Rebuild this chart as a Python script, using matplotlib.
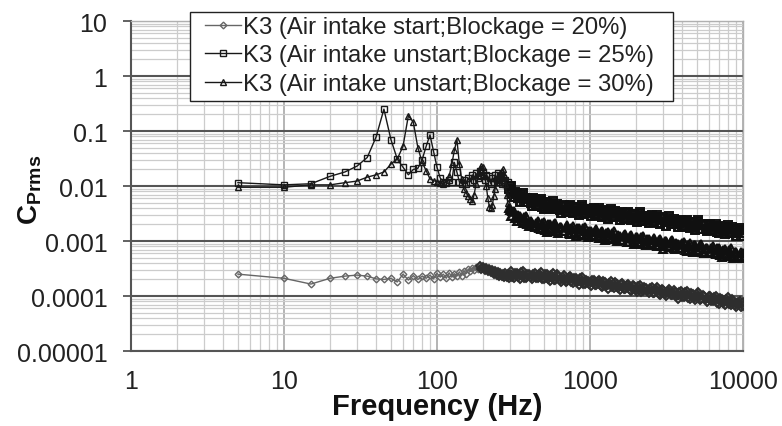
import numpy as np
import matplotlib
matplotlib.use('Agg')
import matplotlib.pyplot as plt
from matplotlib.patches import Rectangle
from matplotlib.ticker import LogLocator, FixedLocator, FixedFormatter, NullFormatter

plt.rcParams['font.family'] = ['Liberation Sans', 'DejaVu Sans']
plt.rcParams['mathtext.fontset'] = 'custom'
plt.rcParams['mathtext.rm'] = 'Liberation Sans'
plt.rcParams['mathtext.bf'] = 'Liberation Sans:bold'

# frequency bins: 5 Hz spacing up to 300 Hz, then a thinned set to 10 kHz
freq_lo = np.arange(5, 301, 5)
freq_hi = [305, 320, 335, 350, 365, 380, 400, 420, 435, 455,
           475, 500, 520, 545, 570, 595, 620, 650, 680, 710,
           740, 775, 810, 845, 885, 925, 965, 1010, 1055, 1100,
           1150, 1200, 1255, 1310, 1370, 1430, 1495, 1560, 1630, 1705,
           1780, 1860, 1945, 2030, 2120, 2215, 2315, 2420, 2530, 2640,
           2760, 2885, 3015, 3150, 3290, 3440, 3595, 3755, 3925, 4100,
           4285, 4480, 4680, 4890, 5110, 5340, 5580, 5830, 6090, 6365,
           6650, 6950, 7265, 7590, 7930, 8290, 8660, 9050, 9500, 10000]
freq_mid = [310, 325, 340, 355, 370, 390, 410, 425, 445, 465,
            485, 510, 530, 555, 580, 605, 635, 665, 695, 725,
            755, 790, 825, 865, 905, 945, 985, 1030, 1075, 1125,
            1175, 1225, 1280, 1340, 1400, 1460, 1525, 1595, 1665, 1740,
            1820, 1900, 1985, 2075, 2165, 2265, 2365, 2475, 2585, 2700,
            2820, 2950, 3080, 3220, 3365, 3515, 3675, 3840, 4010, 4190,
            4380, 4580, 4785, 5000, 5225, 5460, 5705, 5960, 6225, 6505,
            6800, 7105, 7425, 7760, 8110, 8475, 8855, 9275, 9750, 9950]

# Blockage 20% (start), values x1e-4
cp20_lo = [2.5, 2.1, 1.65, 2.1, 2.3, 2.4, 2.3, 2.05, 2.0, 2.1,
           1.8, 2.5, 1.95, 2.35, 2.0, 2.3, 2.1, 2.4, 2.05, 2.6,
           2.2, 2.5, 2.1, 2.65, 2.2, 2.55, 2.3, 2.75, 2.35, 2.9,
           2.55, 3.1, 2.8, 3.3, 3.0, 3.4, 3.1, 3.45, 3.05, 3.35,
           3.0, 3.3, 2.85, 3.1, 2.7, 2.95, 2.55, 2.8, 2.45, 2.7,
           2.35, 2.65, 2.3, 2.55, 2.25, 2.6, 2.2, 2.5, 2.15, 2.45]
cp20_hi = [2.88, 2.16, 2.61, 2.04, 2.81, 2.12, 2.47, 2.01, 2.61, 2.14,
           2.78, 2.07, 2.51, 1.89, 2.58, 1.93, 2.31, 1.80, 2.37, 1.84,
           2.31, 1.72, 2.13, 1.60, 2.22, 1.67, 1.91, 1.55, 1.97, 1.57,
           1.98, 1.46, 1.78, 1.37, 1.89, 1.42, 1.64, 1.30, 1.70, 1.35,
           1.67, 1.24, 1.52, 1.16, 1.59, 1.21, 1.39, 1.12, 1.43, 1.13,
           1.44, 1.05, 1.30, 0.99, 1.37, 1.03, 1.19, 0.88, 1.22, 0.96,
           1.21, 0.90, 1.10, 0.84, 1.17, 0.87, 1.00, 0.79, 1.02, 0.80,
           1.00, 0.73, 0.90, 0.68, 0.94, 0.68, 0.80, 0.62, 0.81, 0.65]
cp20_mid = [2.22, 2.67, 2.22, 2.68, 2.09, 2.54, 2.18, 2.56, 2.10, 2.50,
            2.03, 2.56, 2.06, 2.41, 1.98, 2.47, 1.97, 2.25, 1.83, 2.22,
            1.80, 2.16, 1.78, 2.13, 1.64, 1.98, 1.68, 1.96, 1.58, 1.86,
            1.50, 1.86, 1.49, 1.74, 1.43, 1.78, 1.42, 1.62, 1.33, 1.61,
            1.30, 1.56, 1.28, 1.53, 1.19, 1.44, 1.22, 1.42, 1.14, 1.35,
            1.08, 1.36, 1.08, 1.26, 1.04, 1.29, 1.02, 1.17, 0.957, 1.17,
            0.936, 1.13, 0.93, 1.11, 0.861, 1.03, 0.87, 1.01, 0.806, 0.945,
            0.754, 0.939, 0.746, 0.866, 0.707, 0.874, 0.691, 0.785, 0.637, 0.77]

# Blockage 25% (unstart), values x1e-3
cp25_lo = [11.5, 10.5, 11.0, 15, 18, 23, 33, 78, 250, 70,
           31, 22, 16, 20, 21, 30, 53, 85, 42, 22,
           14, 12, 11.5, 13, 12, 27, 18, 12, 11, 13,
           11, 14, 12, 16, 13, 17, 14, 19, 15, 18,
           13, 16, 12, 15, 11, 14, 12, 16, 13, 17,
           12, 15, 11, 14, 12, 13, 10, 12, 9, 10]
cp25_hi = [10.0, 6.4, 7.5, 5.1, 7.5, 5.2, 5.8, 4.35, 5.9, 4.4,
           5.7, 3.8, 5.0, 3.8, 5.25, 3.8, 4.4, 3.2, 4.5, 3.4,
           4.55, 3.2, 4.1, 2.95, 4.5, 3.25, 3.7, 2.9, 3.95, 3.0,
           3.93, 2.76, 3.56, 2.55, 3.83, 2.73, 3.23, 2.46, 3.43, 2.62,
           3.44, 2.41, 3.11, 2.19, 3.35, 2.31, 2.75, 2.14, 2.97, 2.23,
           2.96, 2.04, 2.63, 1.90, 2.84, 2.03, 2.35, 1.79, 2.46, 1.85,
           2.46, 1.73, 2.23, 1.56, 2.40, 1.64, 1.94, 1.51, 2.08, 1.56,
           2.06, 1.42, 1.83, 1.32, 1.97, 1.41, 1.65, 1.24, 1.72, 1.38]
cp25_mid = [7.2, 7.9, 6.1, 6.9, 5.2, 6.1, 5.0, 6.0, 4.55, 5.4,
            4.1, 5.1, 4.1, 4.8, 3.8, 4.7, 3.7, 4.25, 3.35, 4.3,
            3.4, 4.1, 3.45, 4.2, 3.15, 3.85, 3.2, 3.9, 3.05, 3.7,
            2.88, 3.65, 2.95, 3.48, 2.78, 3.5, 2.75, 3.22, 2.52, 3.24,
            2.57, 3.08, 2.57, 3.13, 2.36, 2.85, 2.39, 2.87, 2.24, 2.73,
            2.13, 2.70, 2.18, 2.56, 2.03, 2.55, 2.00, 2.33, 1.82, 2.33,
            1.85, 2.21, 1.83, 2.22, 1.67, 2.01, 1.68, 2.02, 1.57, 1.90,
            1.48, 1.87, 1.51, 1.77, 1.41, 1.77, 1.38, 1.61, 1.26, 1.62]

# Blockage 30% (unstart), values x1e-3
cp30_lo = [9.5, 9.5, 10.5, 10.5, 11.5, 12.3, 14.5, 16, 18, 25,
           31, 53, 190, 145, 50, 27, 19, 13.5, 12.5, 12,
           11.5, 11, 12, 15, 25, 45, 70, 25, 13.5, 8.8,
           7.5, 6.5, 5.8, 5.3, 7, 11, 16, 20, 23, 22,
           16, 10, 6, 4.2, 4.0, 4.5, 6.5, 9, 12, 13.5,
           15, 17, 18.5, 20, 16, 11, 7, 5, 4, 3.6]
cp30_hi = [2.9, 3.55, 2.3, 2.9, 2.15, 2.85, 1.9, 2.16, 1.77, 2.33,
           1.63, 2.18, 1.46, 2.05, 1.54, 2.14, 1.42, 1.78, 1.49, 1.93,
           1.35, 1.84, 1.26, 1.69, 1.30, 1.78, 1.20, 1.52, 1.24, 1.63,
           1.15, 1.53, 1.03, 1.45, 1.08, 1.50, 1.00, 1.25, 1.04, 1.36,
           0.95, 1.30, 0.886, 1.19, 0.924, 1.26, 0.848, 1.07, 0.878, 1.15,
           0.809, 1.08, 0.726, 1.02, 0.763, 1.06, 0.703, 0.882, 0.735, 0.956,
           0.671, 0.916, 0.625, 0.839, 0.648, 0.882, 0.596, 0.754, 0.617, 0.809,
           0.569, 0.761, 0.511, 0.716, 0.537, 0.745, 0.495, 0.620, 0.517, 0.618]
cp30_mid = [3.5, 2.6, 3.0, 2.3, 2.75, 2.0, 2.3, 1.84, 2.15, 1.73,
            2.1, 1.6, 2.0, 1.64, 2.0, 1.53, 1.83, 1.51, 1.83, 1.38,
            1.73, 1.40, 1.70, 1.37, 1.69, 1.27, 1.53, 1.29, 1.51, 1.22,
            1.48, 1.13, 1.41, 1.15, 1.40, 1.08, 1.29, 1.06, 1.29, 0.97,
            1.22, 0.98, 1.20, 0.966, 1.20, 0.898, 1.08, 0.913, 1.06, 0.855,
            1.04, 0.797, 0.99, 0.814, 0.99, 0.76, 0.907, 0.75, 0.907, 0.685,
            0.86, 0.692, 0.846, 0.683, 0.84, 0.63, 0.76, 0.644, 0.748, 0.601,
            0.735, 0.56, 0.696, 0.572, 0.697, 0.535, 0.637, 0.528, 0.636, 0.482]

labels = ['K3 (Air intake start;Blockage = 20%)',
          'K3 (Air intake unstart;Blockage = 25%)',
          'K3 (Air intake unstart;Blockage = 30%)']
yticks = [1e-5, 1e-4, 1e-3, 1e-2, 1e-1, 1, 10]
ytick_labels = ['0.00001', '0.0001', '0.001', '0.01', '0.1', '1', '10']
xticks = [1, 10, 100, 1000, 10000]
xtick_labels = ['1', '10', '100', '1000', '10000']

freq = np.concatenate([freq_lo, freq_hi, freq_mid])
order = np.argsort(freq)
freq = freq[order]
cp20 = (np.concatenate([cp20_lo, cp20_hi, cp20_mid]) * 1e-4)[order]
cp25 = (np.concatenate([cp25_lo, cp25_hi, cp25_mid]) * 1e-3)[order]
cp30 = (np.concatenate([cp30_lo, cp30_hi, cp30_mid]) * 1e-3)[order]

fig = plt.figure(figsize=(7.82, 4.27), dpi=100)
ax = fig.add_axes([0.1675, 0.1756, 0.7826, 0.7728])
ax.set_xscale('log')
ax.set_yscale('log')
ax.set_xlim(1, 10000)
ax.set_ylim(1e-5, 10)

# (values, marker, size, colour, band colour, where the dense band starts)
styles = [(cp20, 'D', 3.4, '#666666', '#2e2e2e', 190),
          (cp25, 's', 4.6, '#181818', '#101010', 295),
          (cp30, '^', 4.9, '#181818', '#101010', 295)]
for i, (cp, mk, ms, col, dcol, fstart) in enumerate(styles):
    ax.plot(freq, cp, color=col, lw=1.0, marker=mk, ms=ms, mfc='none',
            mec=col, mew=1.0, label=labels[i], zorder=3)
    # the many overlapping spectral points at high frequency form a dark band
    dense = freq >= fstart
    ax.plot(freq[dense], cp[dense], color=dcol, lw=2.0, marker=mk, ms=ms + 0.6,
            mfc='none', mec=dcol, mew=1.4, zorder=3)

ax.yaxis.set_major_locator(FixedLocator(yticks))
ax.yaxis.set_major_formatter(FixedFormatter(ytick_labels))
ax.yaxis.set_minor_locator(LogLocator(base=10, subs=np.arange(2, 10), numticks=100))
ax.yaxis.set_minor_formatter(NullFormatter())
ax.xaxis.set_major_locator(FixedLocator(xticks))
ax.xaxis.set_major_formatter(FixedFormatter(xtick_labels))
ax.xaxis.set_minor_locator(LogLocator(base=10, subs=np.arange(2, 10), numticks=100))
ax.xaxis.set_minor_formatter(NullFormatter())

ax.grid(which='major', axis='y', color='#555555', lw=1.5, zorder=1)
ax.grid(which='minor', axis='y', color='#cccccc', lw=0.9, zorder=1)
ax.grid(which='major', axis='x', color='#a0a0a0', lw=1.1, zorder=1)
ax.grid(which='minor', axis='x', color='#cccccc', lw=0.9, zorder=1)
ax.set_axisbelow(True)

for s in ['left', 'bottom']:
    ax.spines[s].set_color('#555555')
    ax.spines[s].set_linewidth(1.5)
for s in ['top', 'right']:
    ax.spines[s].set_color('#b0b0b0')
    ax.spines[s].set_linewidth(1.0)

ax.tick_params(axis='y', which='major', direction='out', length=6, width=1.3,
               color='#555555', pad=11, labelsize=18, labelcolor='#222222')
ax.tick_params(axis='x', which='major', length=0, pad=13, labelsize=18,
               labelcolor='#222222')
ax.tick_params(which='minor', length=0)

# legend box drawn by hand so its padding matches the original
box = Rectangle((190 / 782, 1 - 102 / 427), 483 / 782, 89 / 427,
                transform=fig.transFigure, facecolor='white', edgecolor='#222222',
                lw=1.0, zorder=4.5, clip_on=False)
ax.add_artist(box)
leg = ax.legend(loc='upper left', bbox_to_anchor=(205 / 782, 1 - 17 / 427),
                bbox_transform=fig.transFigure, borderaxespad=0, borderpad=0,
                frameon=False, fontsize=17.2, handlelength=1.5,
                handletextpad=0.1, labelspacing=0.27)
leg.set_zorder(5)
for t in leg.get_texts():
    t.set_color('#222222')

fig.text(30 / 782, 1 - 190 / 427, r'$\mathbf{C_{Prms}}$', rotation=90,
         ha='center', va='center', fontsize=20, color='#111111')
fig.text(437 / 782, 1 - 407 / 427, 'Frequency (Hz)', ha='center', va='center',
         fontsize=21, fontweight='bold', color='#111111')

fig.savefig('out.png', dpi=100)
